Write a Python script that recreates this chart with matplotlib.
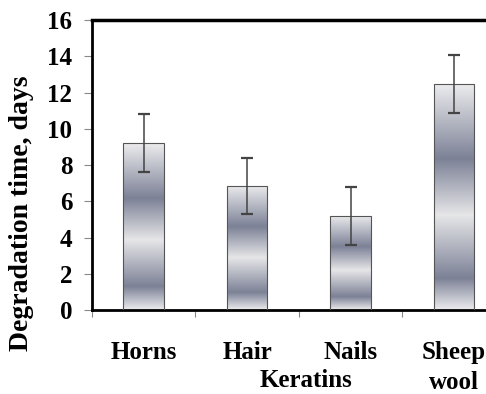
import matplotlib
matplotlib.use("Agg")
import matplotlib.pyplot as plt
import numpy as np
from matplotlib.colors import LinearSegmentedColormap

categories = ["Horns", "Hair", "Nails", "Sheep\nwool"]
values = [9.2, 6.85, 5.2, 12.45]
errors = [1.6, 1.55, 1.6, 1.6]
yticks = [0, 2, 4, 6, 8, 10, 12, 14, 16]

plt.rcParams['font.family'] = ['Liberation Serif', 'DejaVu Serif']
plt.rcParams['font.weight'] = 'bold'

fig = plt.figure(figsize=(4.86, 3.94), dpi=100)
ax = fig.add_axes([0.189, 0.213, 0.852, 0.736])

# banded grey-blue gradient like the original fill (0 = top of bar)
cmap = LinearSegmentedColormap.from_list(
    "band", [(0.0, "#ececee"), (0.33, "#7c8196"), (0.58, "#e6e6e8"),
             (0.86, "#7c8196"), (1.0, "#ececee")])
grad = np.linspace(0, 1, 256).reshape(-1, 1)

x = np.arange(len(categories))
width = 0.39
bars = ax.bar(x, values, width, color="none", edgecolor="#555555", linewidth=0.8, zorder=3)
for b in bars:
    x0, y0 = b.get_x(), b.get_y()
    im = ax.imshow(grad, cmap=cmap, aspect="auto", zorder=2, origin="upper",
                   extent=[x0, x0 + b.get_width(), y0, y0 + b.get_height()],
                   interpolation="bilinear")
    im.set_clip_path(b)

ax.errorbar(x, values, yerr=errors, fmt="none", ecolor="#444444",
            elinewidth=1.1, capsize=4, capthick=1.6, zorder=4)

ax.set_xlim(-0.5, 3.5)
ax.set_ylim(0, 16)
ax.set_yticks(yticks)
ax.set_yticklabels([str(t) for t in yticks], fontsize=18, fontweight='bold')

ax.set_xticks(x)
ax.set_xticklabels(categories, fontsize=18, fontweight='bold', linespacing=1.4)
ax.tick_params(axis='x', length=0, pad=22)
ax.set_xticks(np.arange(-0.5, 4.0, 1.0), minor=True)
ax.tick_params(axis='x', which='minor', length=5, color="#888888", width=0.8)
ax.tick_params(axis='y', length=6, color="#888888", width=0.8, pad=8)

for s in ["left", "bottom"]:
    ax.spines[s].set_linewidth(2)
ax.spines["top"].set_linewidth(2.5)
ax.spines["right"].set_visible(False)

fig.text(0.045, 0.46, "Degradation time, days", fontsize=20, fontweight='bold',
         rotation=90, ha='center', va='center')
fig.text(0.63, 0.035, "Keratins", fontsize=18, fontweight='bold', ha='center', va='center')

ax.set_xlim(-0.5, 3.5)
ax.set_ylim(0, 16)
fig.savefig("out.png", dpi=100)
